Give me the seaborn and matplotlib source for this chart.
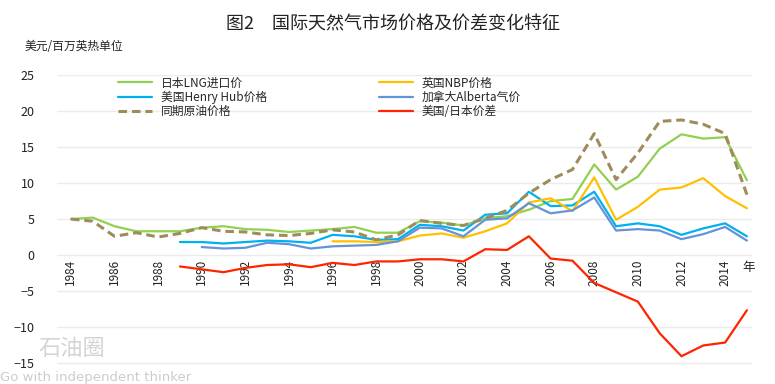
import numpy as np
import pandas as pd
import matplotlib
matplotlib.use('Agg')
import matplotlib.pyplot as plt
import seaborn as sns

sns.set_style("white")
plt.rcParams['font.family'] = ['Noto Sans CJK SC', 'DejaVu Sans']
plt.rcParams['axes.unicode_minus'] = True

# data (USD / MMBtu)
years_lng = list(range(1984, 2016))
japan_lng = [5.0, 5.2, 4.0, 3.3, 3.3, 3.3, 3.8, 4.0, 3.6, 3.5, 3.2, 3.4, 3.6, 3.9, 3.1, 3.1,
             4.7, 4.5, 4.1, 5.1, 5.4, 6.3, 7.5, 7.8, 12.6, 9.1, 10.9, 14.8, 16.8, 16.2, 16.4, 10.4]

years_hh = list(range(1989, 2016))
henry_hub = [1.8, 1.8, 1.6, 1.8, 2.0, 1.9, 1.7, 2.8, 2.6, 2.1, 2.2,
             4.2, 4.0, 3.4, 5.6, 5.8, 8.8, 6.8, 6.9, 8.8, 4.0, 4.4, 4.0, 2.8, 3.7, 4.4, 2.6]

years_oil = list(range(1984, 2016))
crude_oil = [5.0, 4.7, 2.6, 3.1, 2.5, 3.0, 3.8, 3.3, 3.2, 2.8, 2.7, 3.0, 3.5, 3.2, 2.1, 2.8,
             4.8, 4.4, 4.1, 5.1, 6.2, 8.6, 10.5, 11.9, 16.9, 10.5, 14.2, 18.6, 18.8, 18.2, 16.9, 8.4]

years_nbp = list(range(1996, 2016))
uk_nbp = [1.9, 1.9, 1.8, 1.9,
          2.7, 3.0, 2.4, 3.3, 4.4, 7.3, 7.9, 6.1, 10.8, 4.9, 6.7, 9.1, 9.4, 10.7, 8.2, 6.5]

years_ab = list(range(1990, 2016))
alberta = [1.1, 0.9, 1.0, 1.7, 1.5, 0.9, 1.2, 1.3, 1.4, 1.9,
           3.8, 3.7, 2.6, 4.9, 5.1, 7.2, 5.8, 6.2, 8.0, 3.4, 3.6, 3.4, 2.2, 2.9, 3.9, 2.0]

years_spread = list(range(1989, 2016))
us_japan_spread = [-1.6, -2.0, -2.4, -1.8, -1.4, -1.3, -1.7, -1.1, -1.4, -0.9, -0.9,
                   -0.6, -0.6, -0.9, 0.8, 0.7, 2.6, -0.5, -0.8, -3.9, -5.2, -6.5, -10.9,
                   -14.1, -12.6, -12.2, -7.7]

fig = plt.figure(figsize=(7.75, 3.84), dpi=100)
ax = fig.add_axes([0.0735, 0.0443, 0.897, 0.7602])
ax.patch.set_alpha(0)

sns.lineplot(x=years_lng, y=japan_lng, ax=ax, color='#92D050', linewidth=1.6, label='日本LNG进口价')
sns.lineplot(x=years_hh, y=henry_hub, ax=ax, color='#00B0F0', linewidth=1.6, label='美国Henry Hub价格')
sns.lineplot(x=years_oil, y=crude_oil, ax=ax, color='#9E8C5C', linewidth=2.2, label='同期原油价格')
ax.lines[-1].set_dashes((2.8, 1.6))
sns.lineplot(x=years_nbp, y=uk_nbp, ax=ax, color='#FFC000', linewidth=1.6, label='英国NBP价格')
sns.lineplot(x=years_ab, y=alberta, ax=ax, color='#6494D8', linewidth=1.6, label='加拿大Alberta气价')
sns.lineplot(x=years_spread, y=us_japan_spread, ax=ax, color='#FF2400', linewidth=1.6, label='美国/日本价差')

ax.set_xlim(1983.36, 2015.24)
ax.set_ylim(-15.6, 25.05)
for s in ['top', 'right', 'left']:
    ax.spines[s].set_visible(False)
# x tick labels sit just under the zero line
ax.spines['bottom'].set_position(('data', 0))
ax.spines['bottom'].set_visible(False)

ax.set_yticks([-15, -10, -5, 0, 5, 10, 15, 20, 25])
ax.set_xticks(range(1984, 2016, 2))
ax.set_xticklabels([str(y) for y in range(1984, 2016, 2)])
ax.tick_params(axis='y', labelsize=9, colors='#222222', length=0, pad=16)
ax.tick_params(axis='x', labelsize=8.5, colors='#222222', length=0, pad=3, labelrotation=90)
ax.grid(axis='y', color='#EBEBEB', linewidth=1)
ax.set_axisbelow(True)
ax.set_xlabel('')
ax.set_ylabel('')

ax.text(2015.1, -1.8, '年', ha='center', va='center', fontsize=9, color='#222222')

ax.legend(ncol=2, loc='upper left', bbox_to_anchor=(0.088, 0.995), frameon=False,
          fontsize=8.5, handlelength=2.9, handletextpad=0.7, columnspacing=9.5,
          labelspacing=0.1, borderpad=0, borderaxespad=0)

fig.text(0.507, 0.935, '图2　国际天然气市场价格及价差变化特征', ha='center', va='center',
         fontsize=13, color='#222222')
fig.text(0.032, 0.878, '美元/百万英热单位', ha='left', va='center', fontsize=8.5, color='#222222')

# watermark, drawn under the axes
fig.text(0.093, 0.092, '石油圈', ha='center', va='center', fontsize=16, color='#D4D4D4', zorder=-1)
fig.text(0.0, 0.016, 'Go with independent thinker', ha='left', va='center', fontsize=9.5,
         color='#CCCCCC', family=['DejaVu Sans'], zorder=-1)

fig.savefig('out.png', dpi=100)
